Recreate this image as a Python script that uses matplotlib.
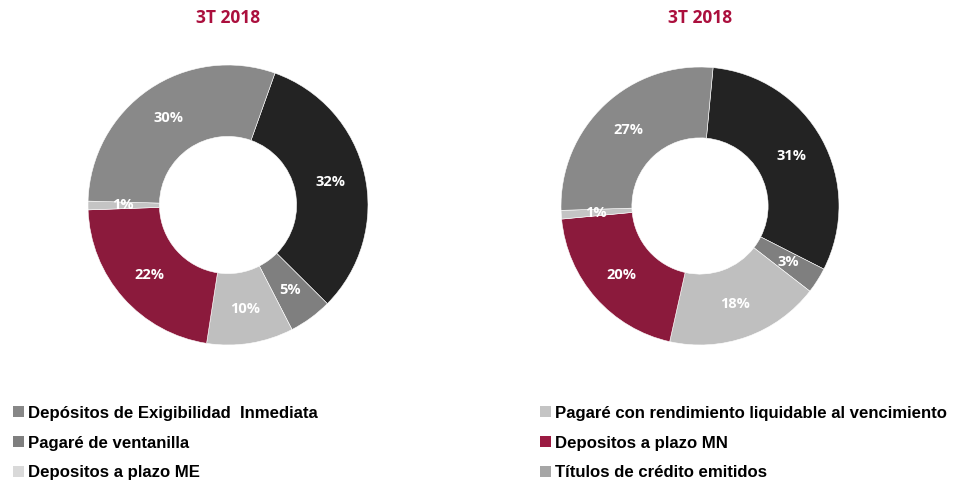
import matplotlib.pyplot as plt
from matplotlib.patches import Patch

# ----- Data -----
titles = ["3T 2018", "3T 2018"]
left_values = [32, 5, 10, 22, 1, 30]
right_values = [31, 3, 18, 20, 1, 27]
slice_colors = ["#232323", "#7f7f7f", "#bfbfbf", "#8b1a3c", "#c4c4c4", "#898989"]

legend_left = ["Depósitos de Exigibilidad  Inmediata", "Pagaré de ventanilla", "Depositos a plazo ME"]
legend_left_colors = ["#878787", "#7f7f7f", "#d9d9d9"]
legend_right = ["Pagaré con rendimiento liquidable al vencimiento", "Depositos a plazo MN",
                "Títulos de crédito emitidos"]
legend_right_colors = ["#c4c4c4", "#9b1b42", "#a6a6a6"]

W, H = 956, 480
fig = plt.figure(figsize=(W / 100, H / 100), dpi=100)


def donut(cx, cy, r, values, start, title):
    ax = fig.add_axes([(cx - r) / W, (H - cy - r) / H, 2 * r / W, 2 * r / H])
    wedges, texts = ax.pie(values, colors=slice_colors, startangle=start, counterclock=False,
                           radius=1, labels=[f"{v}%" for v in values], labeldistance=0.75,
                           wedgeprops=dict(width=0.51, edgecolor="white", linewidth=0.4),
                           textprops=dict(color="white", fontsize=10.5, fontweight="bold",
                                          family="Open Sans", ha="center", va="center"))
    ax.set_xlim(-1, 1)
    ax.set_ylim(-1, 1)
    ax.set_aspect("equal")
    fig.text(cx / W, 1 - 18 / H, title, ha="center", va="center", color="#ab0f3d",
             fontsize=12.5, fontweight="bold", family="Open Sans")
    return ax


donut(228, 205, 140, left_values, 70.4, titles[0])
donut(700, 206, 139, right_values, 84.6, titles[1])

# ----- Legends -----
for names, cols, x in [(legend_left, legend_left_colors, 6 / W),
                       (legend_right, legend_right_colors, 533 / W)]:
    handles = [Patch(facecolor=c, edgecolor="none") for c in cols]
    fig.legend(handles, names, loc="upper left", bbox_to_anchor=(x, 1 - 399 / H),
               frameon=False, handlelength=0.65, handleheight=0.65, handletextpad=0.25,
               labelspacing=0.88, borderaxespad=0,
               prop=dict(family="Liberation Sans", weight="bold", size=12.1))

fig.savefig("out.png", dpi=100)
